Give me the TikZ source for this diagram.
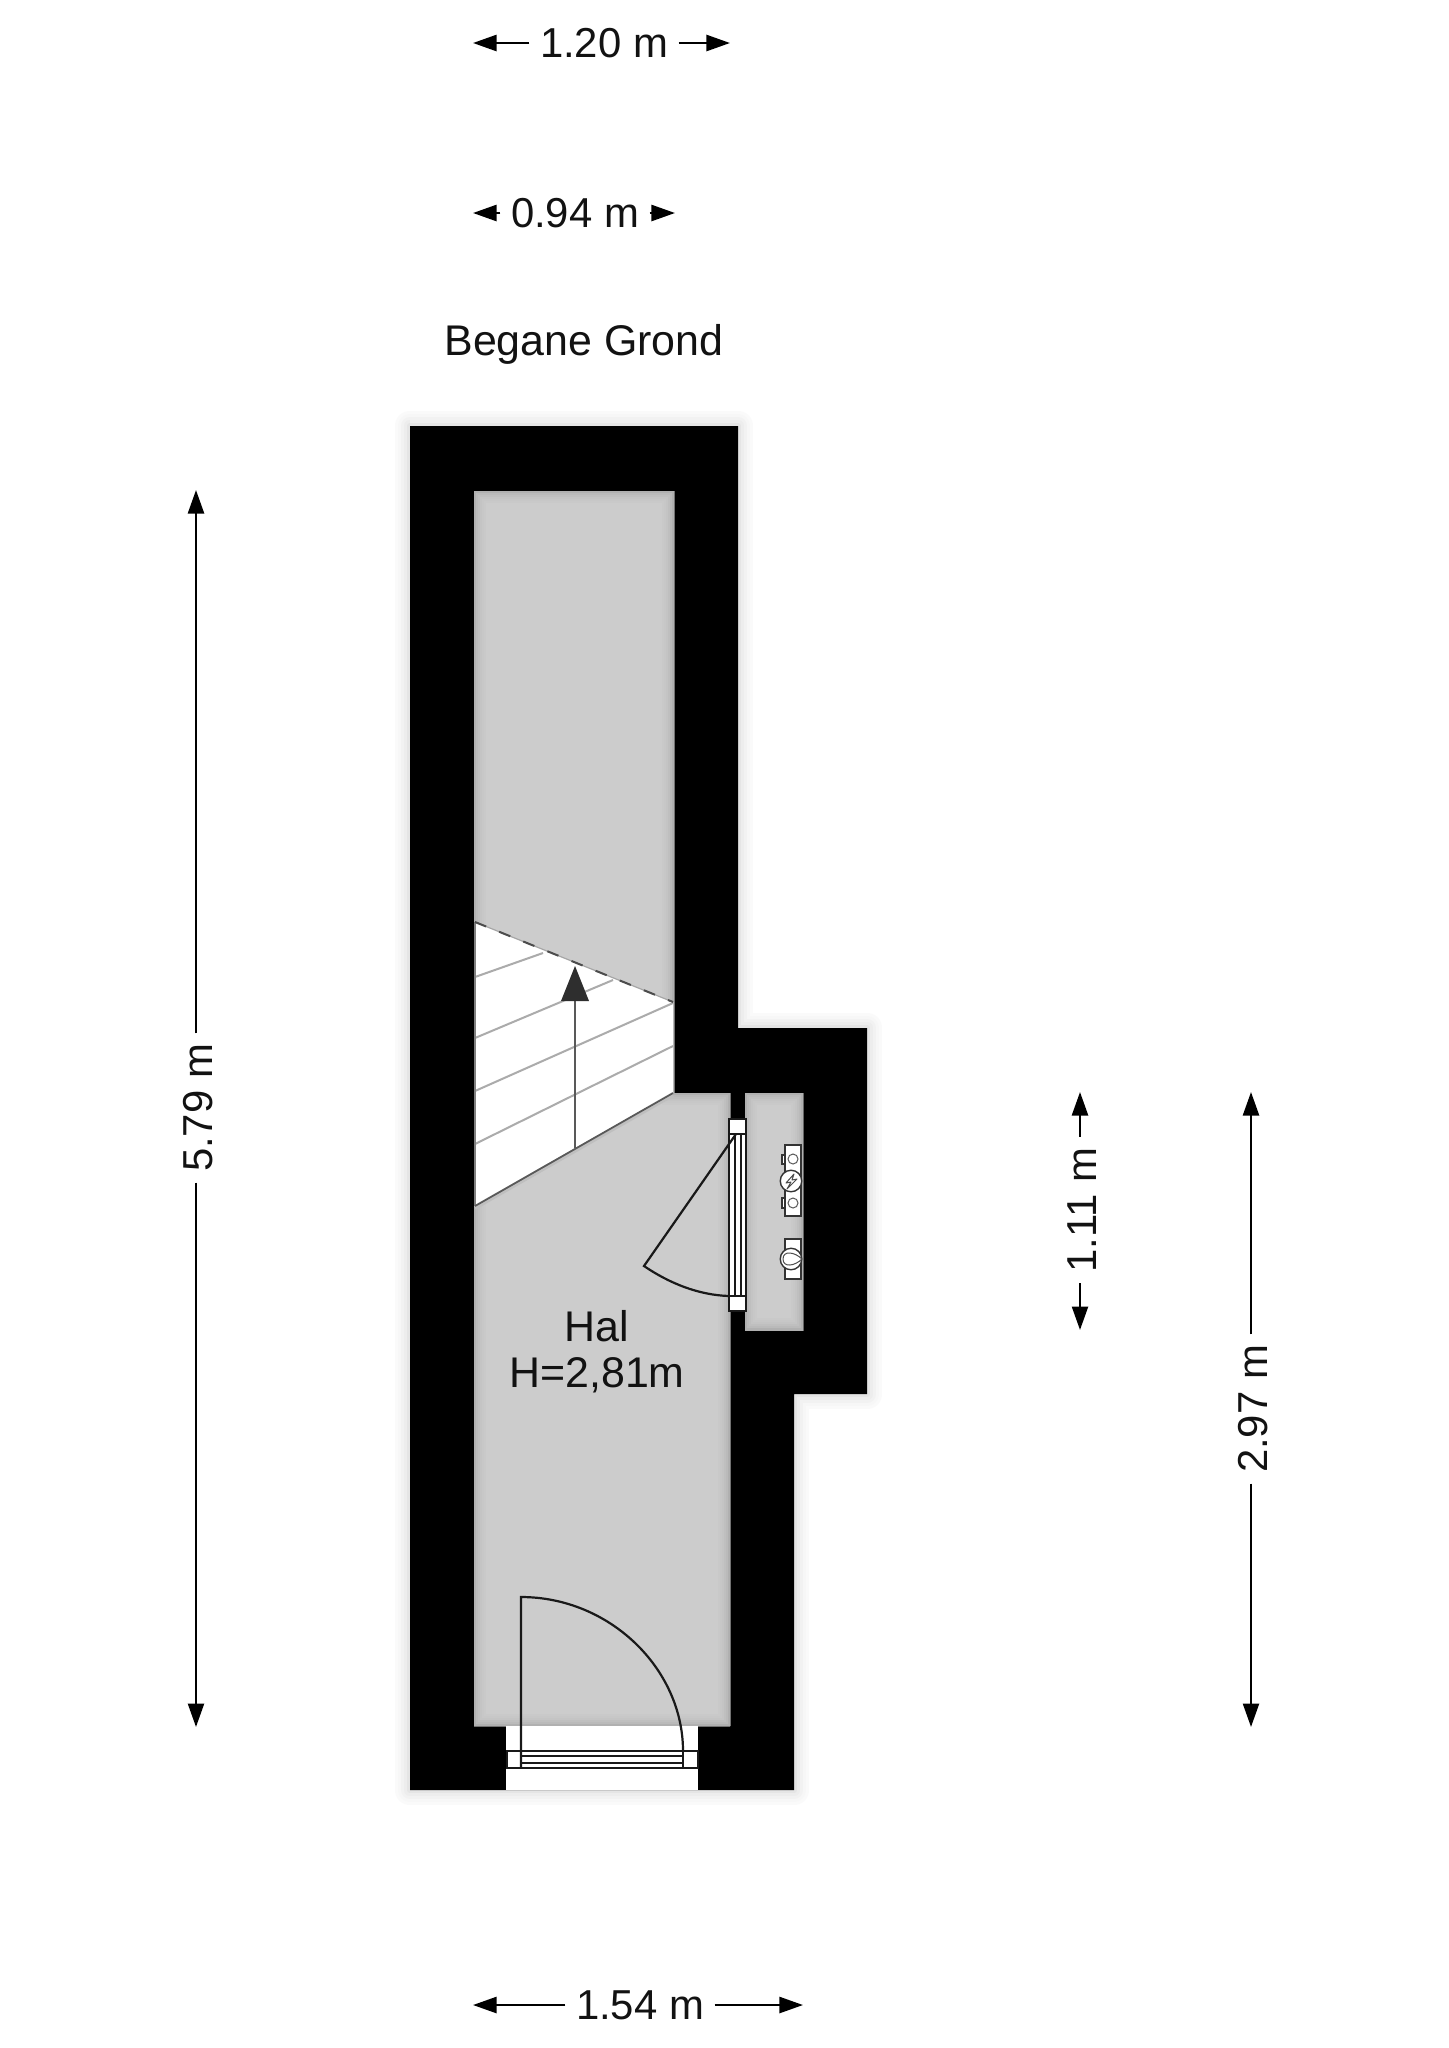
\documentclass[tikz,border=0pt]{standalone}
\usepackage{fontspec}
\setmainfont{Liberation Sans}
\usetikzlibrary{arrows.meta}

\newcommand{\bouwpath}{(410,426) -- (738,426) -- (738,1028) -- (867,1028) -- (867,1394) -- (794,1394) -- (794,1790) -- (410,1790) -- cycle}
\newcommand{\halpath}{(474,491) -- (674,491) -- (674,1093) -- (730,1093) -- (730,1726) -- (474,1726) -- cycle}
\newcommand{\kastpath}{(745,1093) -- (803,1093) -- (803,1330) -- (745,1330) -- cycle}

\tikzset{
    x=0.01cm, y=-0.01cm,
    label/.style={inner sep=0.1cm, text=black!93, font=\fontsize{11.9}{13.1}\selectfont},
    grootlabel/.style={label, font=\fontsize{12.2}{13.1}\selectfont},
    staand/.style={label, rotate=90, text height=0.325cm},
    maat/.style={line width=0.024cm, black, -{Triangle[length=0.235cm,width=0.16cm]}},
    deur/.style={line width=0.022cm, black!90},
    trede/.style={line width=0.02cm, black!33},
    kozijn/.style={draw=black!90, line width=0.016cm, fill=white},
    meter/.style={draw=black!80, line width=0.014cm, fill=white},
    wijzer/.style={circle, draw=black!80, line width=0.014cm, fill=white, inner sep=0pt, minimum size=0.215cm},
    gaatje/.style={circle, draw=black!65, line width=0.01cm, fill=white, inner sep=0pt, minimum size=0.1cm},
}

\begin{document}
\begin{tikzpicture}
        \useasboundingbox[fill=white] (0,0) rectangle (1448,2048);

        \foreach \w/\g in {30/2,24/3,18/5,12/7,6/10}
            \draw[line width=\w*0.01cm, black!\g, line join=round] \bouwpath;
        \fill[black] \bouwpath;

        \fill[black!20] \halpath;
        \fill[black!20] \kastpath;
        \begin{scope}
            \clip \halpath;
            \foreach \w/\g in {24/21,20/22,16/23,12/25,8/27,4/31}
                \draw[line width=\w*0.01cm, black!\g] \halpath;
        \end{scope}
        \begin{scope}
            \clip \kastpath;
            \foreach \w/\g in {24/21,20/22,16/23,12/25,8/27,4/31}
                \draw[line width=\w*0.01cm, black!\g] \kastpath;
        \end{scope}

        \fill[white] (475,922) -- (673,1002) -- (673,1093) -- (475,1206) -- cycle;
        \draw[trede] (475,977) -- (543,953);
        \draw[trede] (475,1038) -- (613,980);
        \draw[trede] (475,1091) -- (673,1003);
        \draw[trede] (475,1144) -- (673,1046);
        \draw[line width=0.012cm, black!50] (475,922) -- (475,1206);
        \draw[line width=0.035cm, black!25] (475,1208) -- (673,1095);
        \draw[line width=0.018cm, black!65] (475,1206) -- (673,1093);
        \draw[line width=0.012cm, black!35] (475,922) -- (673,1002);
        \draw[line width=0.02cm, black!70, dash pattern=on 0.12cm off 0.14cm] (475,922) -- (673,1002);
        \coordinate (trapvoet) at (575,1148);
        \coordinate (traptop) at (575,966);
        \draw[line width=0.022cm, black!65] (trapvoet) -- (575,995);
        \fill[black!82] (traptop) -- (589,1001) -- (561,1001) -- cycle;

        \fill[white] (506,1726) rectangle (698,1790);
        \draw[kozijn, line width=0.022cm] (507,1751) rectangle (698,1768);
        \draw[deur] (521,1756) -- (683,1756) (521,1763) -- (683,1763) (683,1751) -- (683,1768);
        \draw[deur] (521,1768) -- (521,1597) .. controls (610,1597) and (683,1669) .. (683,1751);

        \draw[kozijn] (729,1119) rectangle (746,1311);
        \draw[kozijn] (735,1134) -- (735,1296) (741,1134) -- (741,1296);
        \draw[kozijn] (729,1119) rectangle (746,1134);
        \draw[kozijn] (729,1296) rectangle (746,1311);
        \draw[deur, line join=miter] (736,1134) -- (644,1266) .. controls (669,1283) and (698,1295) .. (729,1296);

        \draw[meter] (782,1155) rectangle (786,1164);
        \draw[meter] (782,1198) rectangle (786,1208);
        \draw[meter] (785,1145) rectangle (801,1216);
        \node[gaatje] (gat1) at (793,1159) {};
        \node[gaatje] (gat2) at (793,1203) {};
        \node[wijzer] (wijzer1) at (791,1181) {};
        \draw[line width=0.01cm, black!70, line join=round] (794,1174) -- (786,1183) -- (791,1182) -- (787,1189) -- (797,1179) -- (792,1180) -- cycle;
        \draw[meter] (785,1239) rectangle (801,1279);
        \node[wijzer] (wijzer2) at (791,1259) {};
        \draw[line width=0.01cm, black!70] (802,1259) .. controls (795,1252) and (783,1250) .. (783,1259) .. controls (783,1268) and (795,1266) .. (802,1259);

        \node[grootlabel, align=center] (hal) at (597,1352) {Hal\\H=2,81m};
        \node[grootlabel, anchor=base] (begane) at (584,355) {Begane Grond};

        \node[label] (m120) at (604,43) {1.20 m};
        \coordinate (m120l) at (473,43);
        \coordinate (m120r) at (730,43);
        \draw[maat] (m120) -- (m120l);
        \draw[maat] (m120) -- (m120r);

        \node[label] (m094) at (575,213) {0.94 m};
        \coordinate (m094l) at (473,213);
        \coordinate (m094r) at (675,213);
        \draw[maat] (m094) -- (m094l);
        \draw[maat] (m094) -- (m094r);

        \node[label] (m154) at (640,2005) {1.54 m};
        \coordinate (m154l) at (473,2005);
        \coordinate (m154r) at (803,2005);
        \draw[maat] (m154) -- (m154l);
        \draw[maat] (m154) -- (m154r);

        \node[staand] (m579) at (196,1108) {5.79 m};
        \coordinate (m579t) at (196,490);
        \coordinate (m579b) at (196,1727);
        \draw[maat] (m579) -- (m579t);
        \draw[maat] (m579) -- (m579b);

        \node[staand] (m111) at (1080,1210) {1.11 m};
        \coordinate (m111t) at (1080,1092);
        \coordinate (m111b) at (1080,1330);
        \draw[maat] (m111) -- (m111t);
        \draw[maat] (m111) -- (m111b);

        \node[staand] (m297) at (1251,1409) {2.97 m};
        \coordinate (m297t) at (1251,1092);
        \coordinate (m297b) at (1251,1727);
        \draw[maat] (m297) -- (m297t);
        \draw[maat] (m297) -- (m297b);
\end{tikzpicture}
\end{document}
